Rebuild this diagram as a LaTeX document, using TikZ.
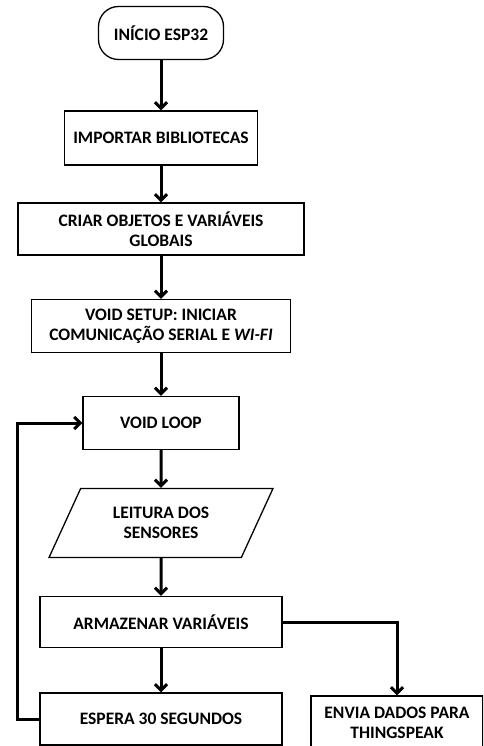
\documentclass[tikz,border=0pt]{standalone}
\usepackage{fontspec}
\setmainfont{Carlito}
\usetikzlibrary{arrows.meta,shapes.geometric}

\begin{document}
\begin{tikzpicture}[x=1pt, y=-1pt,
    every node/.style={font=\fontsize{17.5}{20}\selectfont\bfseries, align=center},
    box/.style={draw, line width=1.3pt, inner sep=2pt},
    flow/.style={line width=3pt, -{Straight Barb[length=6pt,width=12pt]}}]
    % page
    \useasboundingbox (0,0) rectangle (483,746);
    \clip (0,0) rectangle (483,746);

    % main column
    \node[box, rounded corners=20pt, minimum width=125pt, minimum height=53pt] (inicio) at (161,33) {INÍCIO ESP32};
    \node[box, minimum width=193pt, minimum height=54pt] (libs)   at (161,138) {IMPORTAR BIBLIOTECAS};
    \node[box, minimum width=286pt, minimum height=52pt] (objs)   at (161,229) {CRIAR OBJETOS E VARIÁVEIS\\GLOBAIS};
    \node[box, minimum width=259pt, minimum height=53pt] (setup)  at (161,326) {VOID SETUP: INICIAR\\COMUNICAÇÃO SERIAL E \textit{WI-FI}};
    \node[box, minimum width=156pt, minimum height=53pt] (loop)   at (161,423) {VOID LOOP};
    \node[box, trapezium, trapezium stretches=true, trapezium left angle=61, trapezium right angle=119,
          minimum width=224pt, minimum height=69pt] (leitura) at (161,523) {LEITURA DOS\\SENSORES};
    \node[box, minimum width=242pt, minimum height=51pt] (armaz)  at (161,622) {ARMAZENAR VARIÁVEIS};
    \node[box, minimum width=242pt, minimum height=52pt] (espera) at (161,719) {ESPERA 30 SEGUNDOS};

    % side branch
    \node[box, minimum width=172pt, minimum height=54pt] (envia) at (397,723) {ENVIA DADOS PARA\\THINGSPEAK};

    % arrows
    \draw[flow] (inicio.south) -- (libs.north);
    \draw[flow] (libs.south) -- (objs.north);
    \draw[flow] (objs.south) -- (setup.north);
    \draw[flow] (setup.south) -- (loop.north);
    \draw[flow] (loop.south) -- (leitura.north);
    \draw[flow] (leitura.south) -- (armaz.north);
    \draw[flow] (armaz.south) -- (espera.north);
    \draw[flow] (armaz.east) -| (envia.north);

    % back to loop
    \coordinate (back) at (17,719);
    \draw[flow] (espera.west) -- (back) |- (loop.west);
  \end{tikzpicture}
\end{document}
